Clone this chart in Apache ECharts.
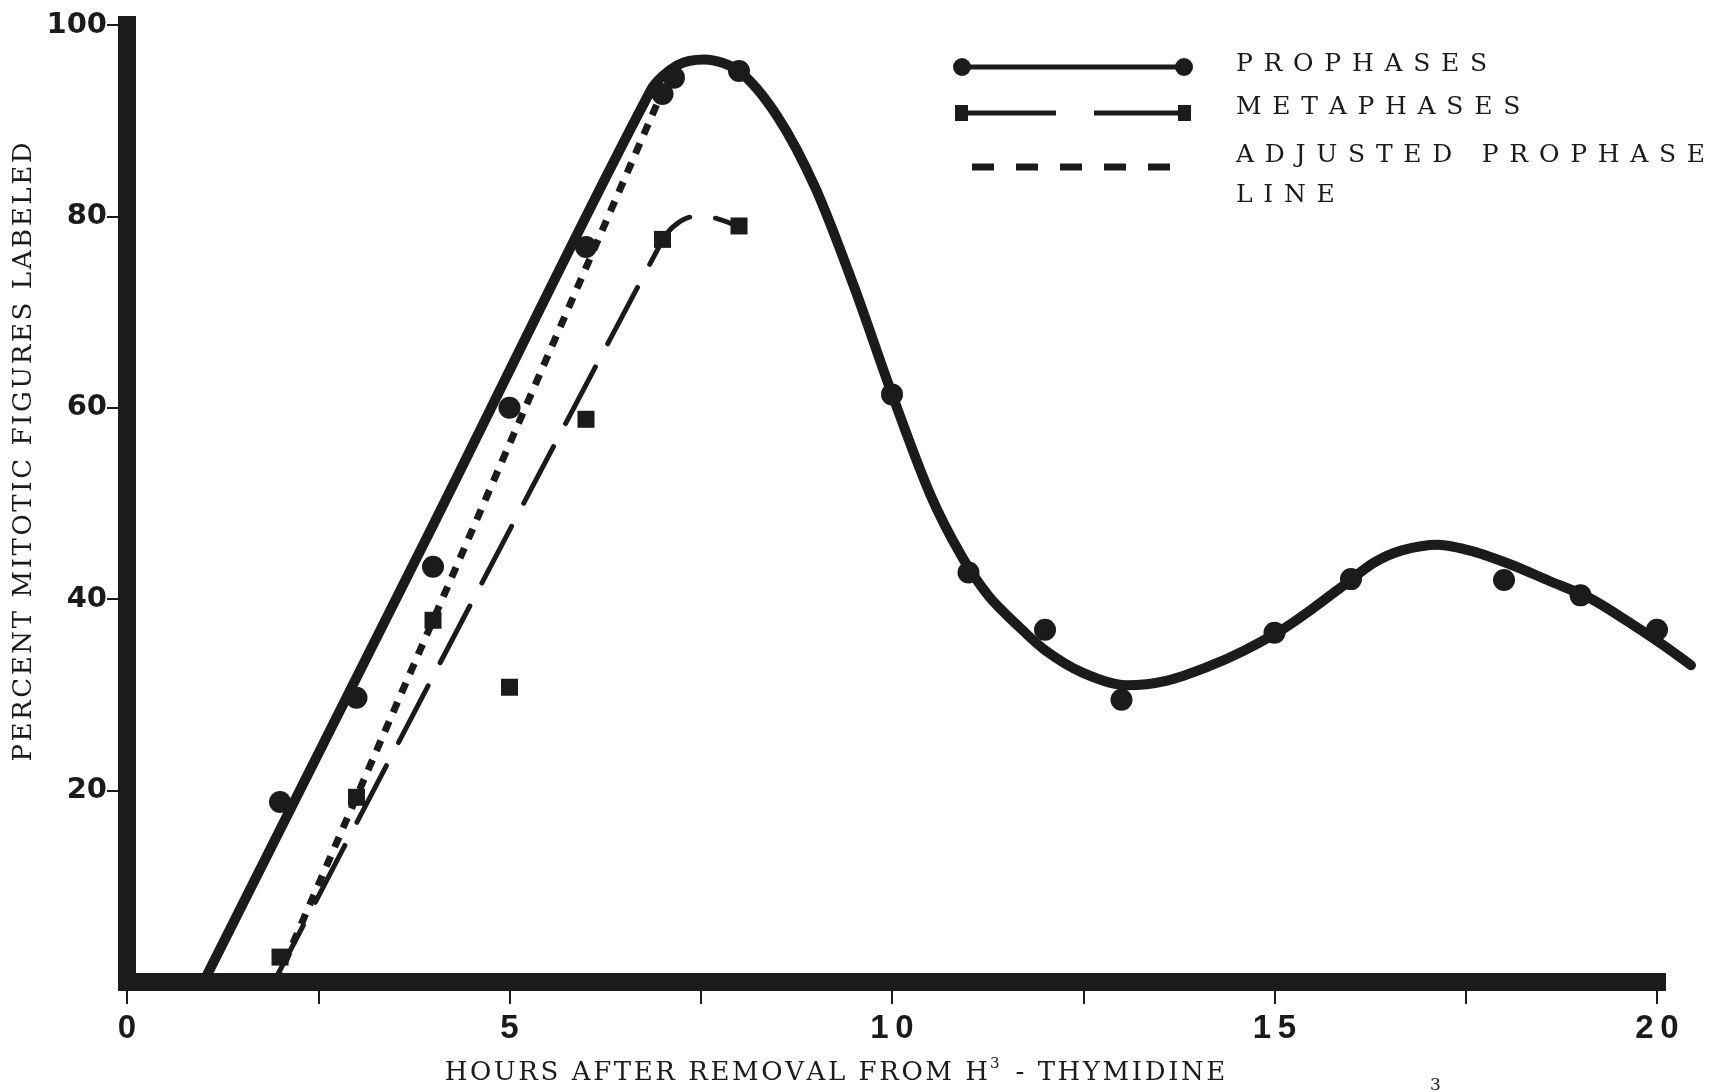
<!DOCTYPE html>
<html>
<head>
<meta charset="utf-8">
<title>Percent mitotic figures labeled</title>
<script src="https://cdn.jsdelivr.net/npm/echarts@6/dist/echarts.min.js"></script>
<style>
  html, body { margin: 0; padding: 0; background: #fff; }
  #main { width: 1711px; height: 1092px; }
</style>
</head>
<body>
<div id="main"></div>
<script>
// hours after removal from H3-thymidine / percent of mitotic figures labeled
const prophaseHours = [2, 3, 4, 5, 6, 7, 7.15, 8, 10, 11, 12, 13, 15, 16, 18, 19, 20]
const prophasePct = [18.8, 29.7, 43.4, 60, 76.8, 92.8, 94.5, 95.2, 61.4, 42.8, 36.8, 29.5, 36.5, 42.1, 42.0, 40.4, 36.8]

const metaphaseHours = [2, 3, 4, 5, 6, 7, 8]
const metaphasePct = [2.6, 19.3, 37.8, 30.8, 58.8, 77.6, 79.0]

// hand drawn curves
const prophaseCurveHours = [1.0, 4.0, 6.85, 7.2, 7.55, 8.0, 8.5, 9.0, 9.5, 10.0, 10.5, 10.92, 11.27, 11.64, 12.0, 12.5, 13.07, 13.6, 14.15, 14.6, 15.1, 15.5, 15.95, 16.3, 16.67, 17.14, 17.6, 18.1, 18.6, 19.13, 19.6, 20.05, 20.45]
const prophaseCurvePct = [0, 47.7, 93.2, 95.8, 96.4, 95.2, 90.5, 83, 72.8, 61.5, 51, 44.4, 40.3, 37.3, 34.7, 32.3, 31.0, 31.5, 33.0, 34.6, 36.8, 39, 41.7, 43.8, 45.1, 45.7, 45, 43.6, 41.9, 40.1, 37.8, 35.4, 33.1]

const metaphaseCurveHours = [1.92, 7.0, 7.2, 7.45, 7.7, 8.0]
const metaphaseCurvePct = [0, 77.5, 79.3, 80, 79.8, 78.9]

const adjustedHours = [1.95, 7.05]
const adjustedPct = [0, 94]

const xTicks = [0, 5, 10, 15, 20]

const ink = '#1b1b1b'
const pairs = (xs, ys) => xs.map((x, i) => [x, ys[i]])
const spaced = (s, sp) => s.split('').join(sp)
const legendGap = '\u2004\u200A'
const titleGap = '\u200A'

var myChart = echarts.init(document.getElementById('main'))

var option = {
  backgroundColor: '#ffffff',
  animation: false,
  grid: [
    { left: 127, right: 54, top: 25, bottom: 110 },
    // same scale, a little wider: the drawn curve runs past the 20 h tick
    { left: 127, right: 20, top: 25, bottom: 110 }
  ],
  xAxis: [
    {
      type: 'value',
      gridIndex: 0,
      min: 0,
      max: 20,
      interval: 2.5,
      splitLine: { show: false },
      axisLine: { lineStyle: { color: ink, width: 18, cap: 'square' } },
      axisTick: { show: true, length: 22, lineStyle: { color: ink, width: 2 } },
      axisLabel: {
        margin: 30,
        color: ink,
        fontFamily: 'Liberation Sans',
        fontWeight: 'bold',
        fontSize: 33,
        formatter: function (v) {
          return xTicks.indexOf(v) >= 0 ? spaced(String(v), '\u2009') : ''
        }
      }
    },
    { type: 'value', gridIndex: 1, min: 0, max: 20.45, show: false }
  ],
  yAxis: [
    {
      type: 'value',
      gridIndex: 0,
      min: 0,
      max: 100,
      interval: 20,
      splitLine: { show: false },
      axisLine: { lineStyle: { color: ink, width: 18, cap: 'square' } },
      axisTick: { show: true, length: 20, lineStyle: { color: ink, width: 2 } },
      axisLabel: {
        margin: 20,
        color: ink,
        fontFamily: 'DejaVu Sans',
        fontWeight: 'bold',
        fontSize: 29,
        showMinLabel: false
      }
    },
    { type: 'value', gridIndex: 1, min: 0, max: 100, show: false }
  ],
  series: [
    {
      name: 'ADJUSTED PROPHASE LINE',
      type: 'line',
      data: pairs(adjustedHours, adjustedPct),
      symbol: 'none',
      lineStyle: { color: ink, width: 7, type: [11, 10], cap: 'butt' },
      z: 2
    },
    {
      name: 'METAPHASES line',
      type: 'line',
      data: pairs(metaphaseCurveHours, metaphaseCurvePct),
      smooth: 0.4,
      symbol: 'none',
      lineStyle: { color: ink, width: 5, type: [64, 26], cap: 'round' },
      z: 2
    },
    {
      name: 'PROPHASES line',
      type: 'line',
      xAxisIndex: 1,
      yAxisIndex: 1,
      data: pairs(prophaseCurveHours, prophaseCurvePct),
      smooth: 0.3,
      symbol: 'none',
      clip: false,
      lineStyle: { color: ink, width: 10, cap: 'round', join: 'round' },
      z: 3
    },
    {
      name: 'PROPHASES',
      type: 'scatter',
      data: pairs(prophaseHours, prophasePct),
      symbol: 'circle',
      symbolSize: 22,
      itemStyle: { color: ink, opacity: 1 },
      z: 4
    },
    {
      name: 'METAPHASES',
      type: 'scatter',
      data: pairs(metaphaseHours, metaphasePct),
      symbol: 'rect',
      symbolSize: 17,
      itemStyle: { color: ink, opacity: 1 },
      z: 4
    }
  ],
  graphic: [
    // axis titles
    {
      type: 'text', x: 24, y: 452, rotation: Math.PI / 2,
      style: { text: spaced('PERCENT MITOTIC FIGURES LABELED', titleGap), font: '26px "DejaVu Serif"', fill: ink, align: 'center', verticalAlign: 'middle' }
    },
    {
      type: 'text', x: 835, y: 1073,
      style: {
        text: spaced('HOURS AFTER REMOVAL FROM H', titleGap) + '{sup|3}' + spaced(' - THYMIDINE', titleGap),
        font: '26px "DejaVu Serif"', fill: ink, align: 'center', verticalAlign: 'middle',
        rich: { sup: { font: '15px "DejaVu Serif"', fill: ink, padding: [0, 5, 18, 2] } }
      }
    },
    // legend: prophases
    { type: 'line', shape: { x1: 962, y1: 67, x2: 1184, y2: 67 }, style: { stroke: ink, lineWidth: 5 } },
    { type: 'circle', shape: { cx: 962, cy: 67, r: 9 }, style: { fill: ink } },
    { type: 'circle', shape: { cx: 1184, cy: 67, r: 9 }, style: { fill: ink } },
    { type: 'text', x: 1236, y: 64, style: { text: spaced('PROPHASES', legendGap), font: '25px "DejaVu Serif"', fill: ink, verticalAlign: 'middle' } },
    // legend: metaphases
    { type: 'line', shape: { x1: 962, y1: 113, x2: 1056, y2: 113 }, style: { stroke: ink, lineWidth: 5 } },
    { type: 'line', shape: { x1: 1094, y1: 113, x2: 1184, y2: 113 }, style: { stroke: ink, lineWidth: 5 } },
    { type: 'rect', shape: { x: 955, y: 105, width: 13, height: 16 }, style: { fill: ink } },
    { type: 'rect', shape: { x: 1178, y: 105, width: 13, height: 16 }, style: { fill: ink } },
    { type: 'text', x: 1236, y: 107, style: { text: spaced('METAPHASES', legendGap), font: '25px "DejaVu Serif"', fill: ink, verticalAlign: 'middle' } },
    // legend: adjusted prophase line
    { type: 'line', shape: { x1: 972, y1: 167, x2: 1172, y2: 167 }, style: { stroke: ink, lineWidth: 7, lineDash: [22, 22] } },
    { type: 'text', x: 1236, y: 155, style: { text: spaced('ADJUSTED PROPHASE', legendGap), font: '25px "DejaVu Serif"', fill: ink, verticalAlign: 'middle' } },
    { type: 'text', x: 1236, y: 195, style: { text: spaced('LINE', legendGap), font: '25px "DejaVu Serif"', fill: ink, verticalAlign: 'middle' } },
    // cut-off caption fragment at the bottom edge
    { type: 'text', x: 1430, y: 1077, style: { text: '3', font: '17px "DejaVu Serif"', fill: ink } }
  ]
}

option && myChart.setOption(option)
</script>
</body>
</html>
